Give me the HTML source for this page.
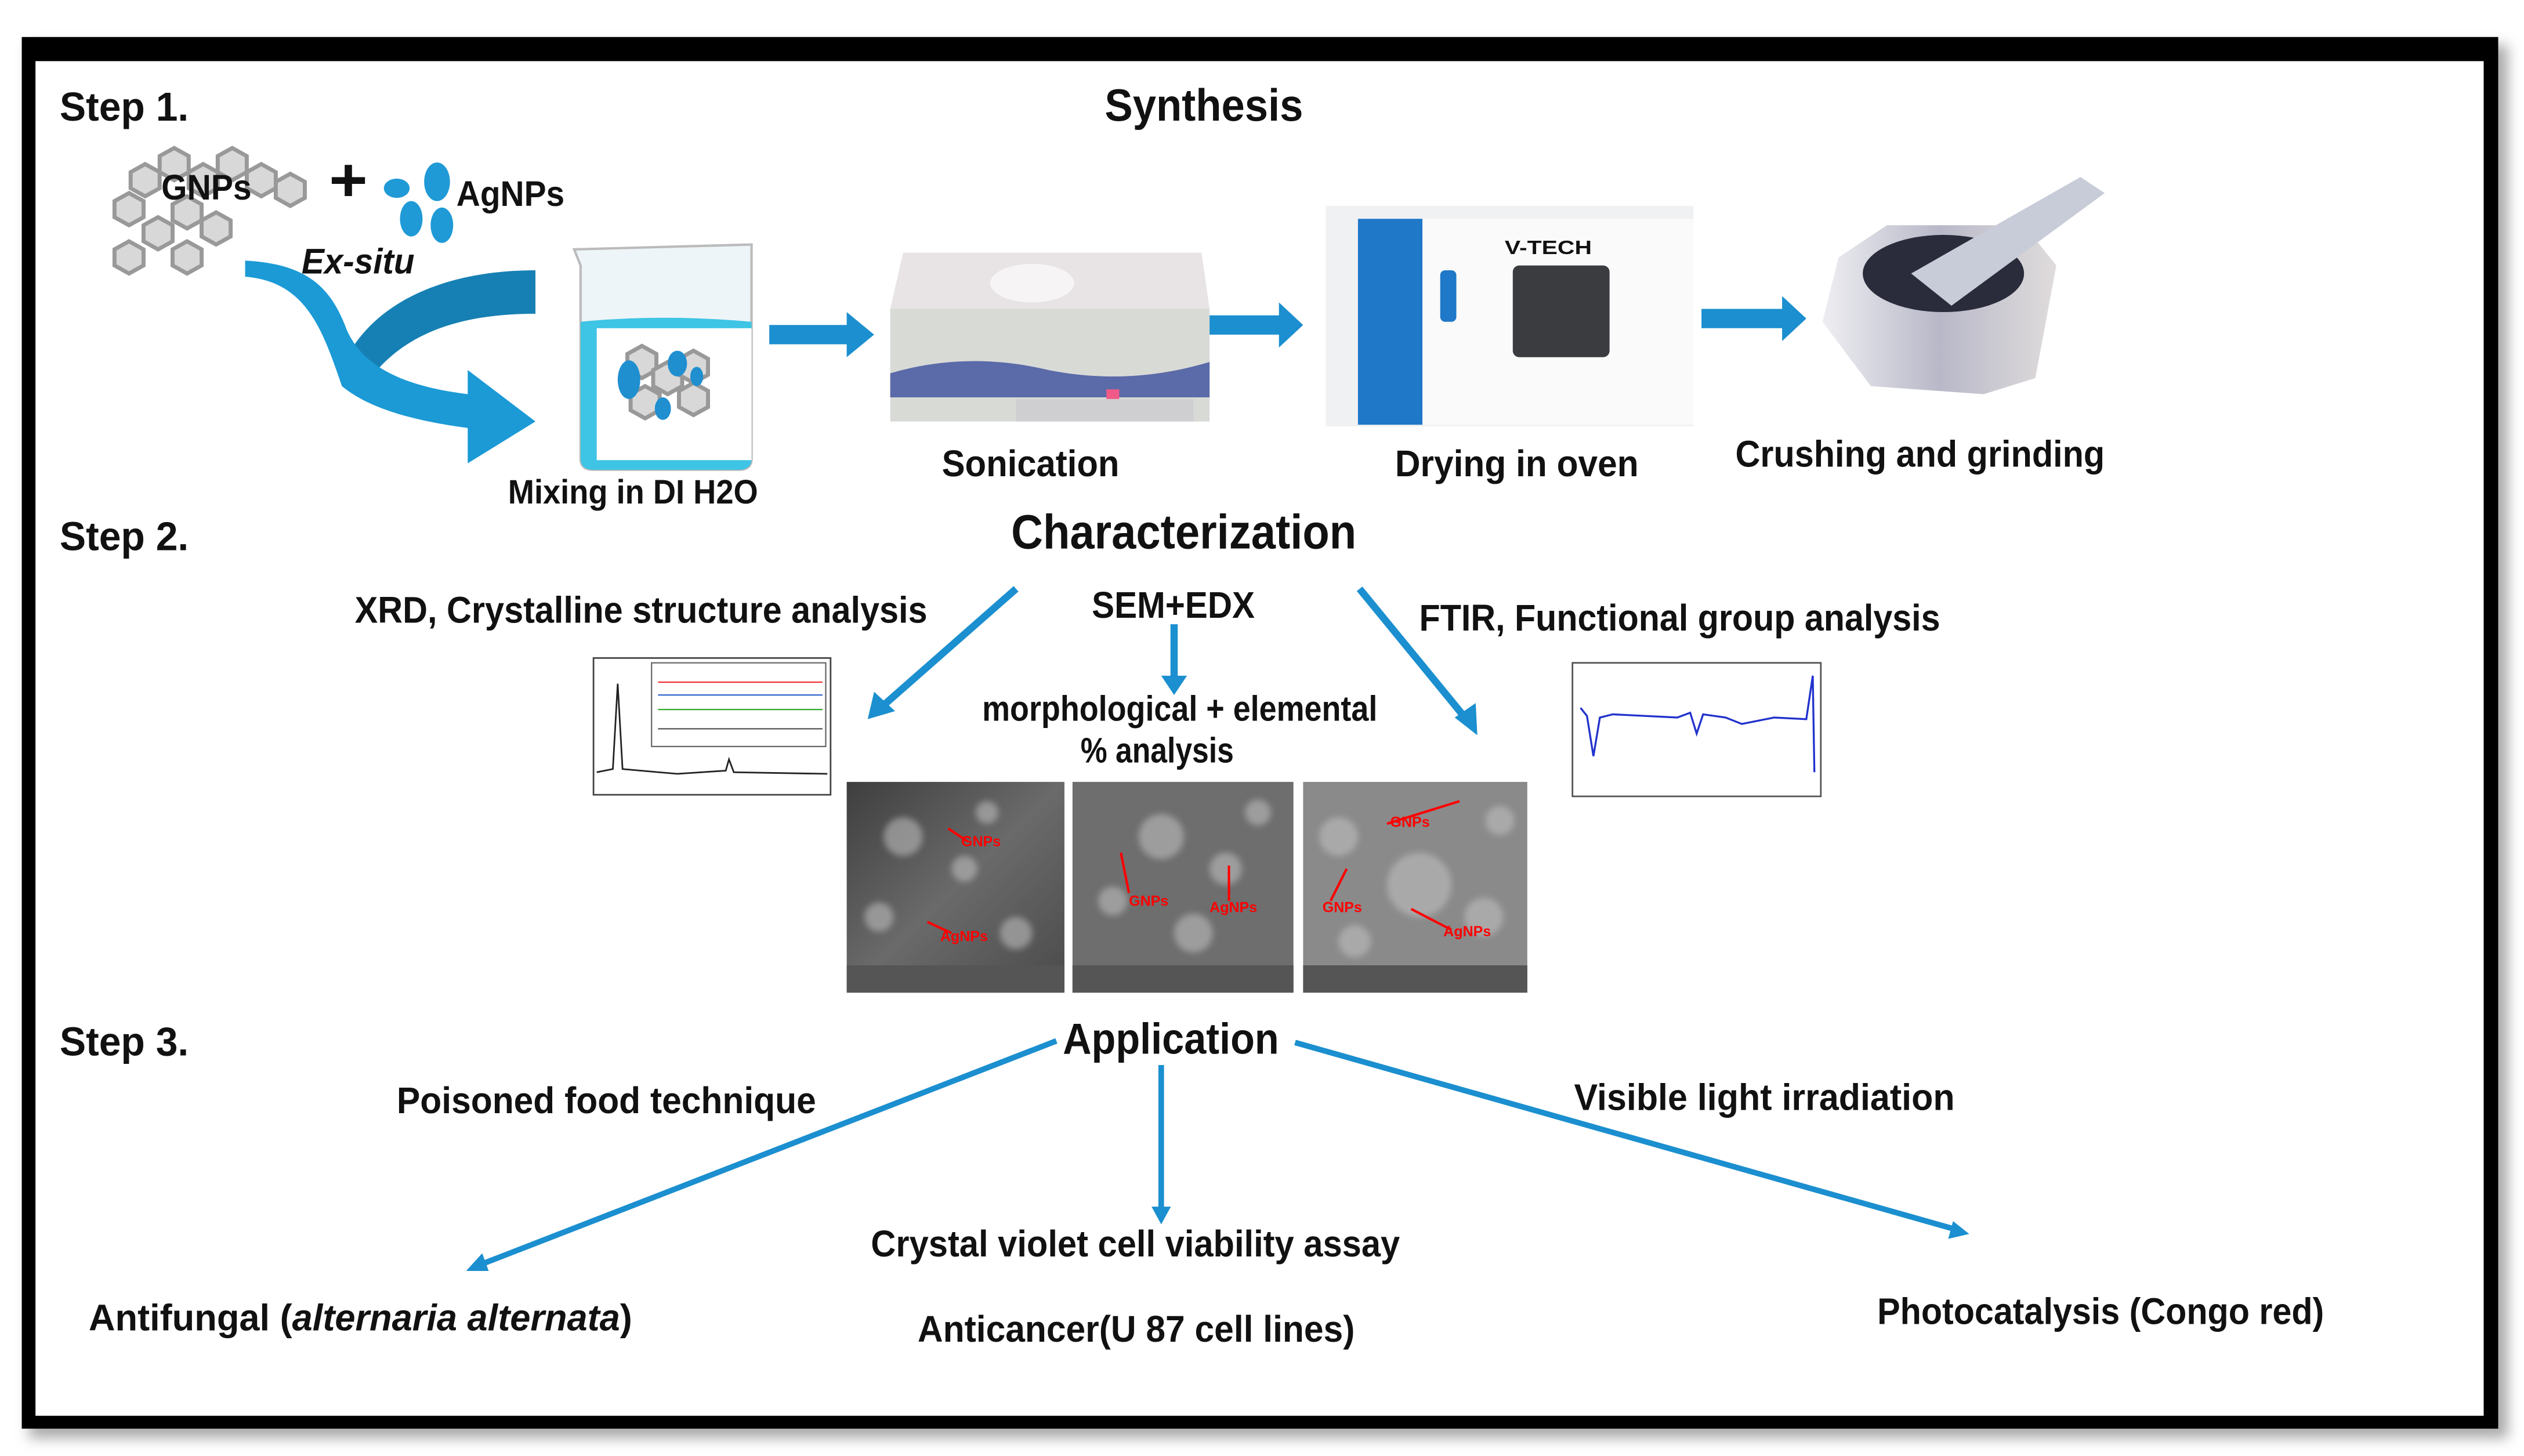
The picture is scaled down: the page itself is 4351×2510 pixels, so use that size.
<!DOCTYPE html>
<html><head><meta charset="utf-8"><style>
html,body{margin:0;padding:0;background:#fff;}
svg{display:block;}
text{font-family:"Liberation Sans",sans-serif;font-weight:bold;fill:#111;}
</style></head><body>
<svg width="4351" height="2510" viewBox="0 0 1565 905" preserveAspectRatio="none" xmlns="http://www.w3.org/2000/svg">
<defs>
<filter id="sh" x="-5%" y="-5%" width="110%" height="115%"><feGaussianBlur stdDeviation="4"/></filter>
<filter id="bl"><feGaussianBlur stdDeviation="2"/></filter>
<linearGradient id="sem" x1="0" y1="0" x2="1" y2="1"><stop offset="0" stop-color="#3e3e3e"/><stop offset="0.5" stop-color="#6a6a6a"/><stop offset="1" stop-color="#4a4a4a"/></linearGradient>
<linearGradient id="mort" x1="0" y1="0" x2="1" y2="0"><stop offset="0" stop-color="#eeeef2"/><stop offset="0.5" stop-color="#b8b8c8"/><stop offset="1" stop-color="#e0dcdc"/></linearGradient>
<g id="hex"><polygon points="0,-10 9,-5 9,5 0,10 -9,5 -9,-5" fill="#d8d8d8" stroke="#999" stroke-width="2.5"/></g>
</defs>
<rect x="0" y="0" width="1565" height="905" fill="#fff"/>
<rect x="18" y="28" width="1537" height="866" fill="#aaa" filter="url(#sh)"/>
<rect x="13.5" y="23" width="1535.5" height="865" fill="#000"/>
<rect x="22" y="38" width="1518" height="842" fill="#fff"/>

<g lengthAdjust="spacingAndGlyphs">
<text x="37" y="75" font-size="25" textLength="80" lengthAdjust="spacingAndGlyphs">Step 1.</text>
<text x="37" y="342" font-size="25" textLength="80" lengthAdjust="spacingAndGlyphs">Step 2.</text>
<text x="37" y="656" font-size="25" textLength="80" lengthAdjust="spacingAndGlyphs">Step 3.</text>
<text x="685" y="75" font-size="28" textLength="123" lengthAdjust="spacingAndGlyphs">Synthesis</text>
</g>

<!-- graphene -->
<g>
<use href="#hex" x="90" y="112"/><use href="#hex" x="108" y="102"/><use href="#hex" x="126" y="112"/><use href="#hex" x="144" y="102"/>
<use href="#hex" x="162" y="112"/><use href="#hex" x="180" y="118"/><use href="#hex" x="80" y="130"/><use href="#hex" x="116" y="132"/>
<use href="#hex" x="134" y="142"/><use href="#hex" x="98" y="145"/><use href="#hex" x="80" y="160"/><use href="#hex" x="116" y="160"/>
</g>
<text x="100" y="124" font-size="22" textLength="56" lengthAdjust="spacingAndGlyphs">GNPs</text>
<text x="204" y="125" font-size="38" textLength="24" lengthAdjust="spacingAndGlyphs">+</text>
<ellipse cx="246" cy="117" rx="8" ry="6" fill="#1f9ad6"/>
<ellipse cx="271" cy="113" rx="8" ry="12" fill="#1f9ad6"/>
<ellipse cx="255" cy="136" rx="7" ry="11" fill="#1f9ad6"/>
<ellipse cx="274" cy="140" rx="7" ry="11" fill="#1f9ad6"/>
<text x="283" y="128" font-size="22" textLength="67" lengthAdjust="spacingAndGlyphs">AgNPs</text>
<text x="187" y="170" font-size="22" font-style="italic" textLength="70" lengthAdjust="spacingAndGlyphs">Ex-situ</text>

<path d="M332,168 L332,195 C280,195 245,210 225,242 L215,222 C235,185 280,168 332,168 Z" fill="#1680b4"/>
<path d="M152,162 L152,172 C190,175 200,205 212,240 C230,255 260,262 290,266 L290,288 L332,262 L290,230 L290,245 C250,240 225,228 215,205 C205,178 190,164 152,162 Z" fill="#1b9ad6"/>

<!-- beaker -->
<path d="M356,155 L466,152 L466,285 Q466,292 458,292 L368,292 Q360,292 360,285 L360,165 Z" fill="#eef5f8" stroke="#bbb" stroke-width="1.5"/>
<path d="M360,200 Q410,195 466,200 L466,285 Q466,292 458,292 L368,292 Q360,292 360,285 Z" fill="#3ec4e4"/>
<rect x="370" y="204" width="96" height="82" fill="#fff"/>
<use href="#hex" x="398" y="225"/><use href="#hex" x="414" y="235"/><use href="#hex" x="400" y="250"/><use href="#hex" x="430" y="228"/><use href="#hex" x="430" y="248"/>
<ellipse cx="390" cy="236" rx="7" ry="12" fill="#1f8fd0"/><ellipse cx="420" cy="226" rx="6" ry="8" fill="#1f8fd0"/><ellipse cx="411" cy="254" rx="5" ry="7" fill="#1f8fd0"/><ellipse cx="432" cy="234" rx="4" ry="6" fill="#1f8fd0"/>
<text x="315" y="313" font-size="21" textLength="155" lengthAdjust="spacingAndGlyphs">Mixing in DI H2O</text>

<path d="M477,202 L525,202 L525,194 L542,208 L525,222 L525,214 L477,214 Z" fill="#1b8fcf"/>
<path d="M743,196 L793,196 L793,188 L808,202 L793,216 L793,208 L743,208 Z" fill="#1b8fcf"/>
<path d="M1055,192 L1105,192 L1105,184 L1120,198 L1105,212 L1105,204 L1055,204 Z" fill="#1b8fcf"/>

<!-- sonicator -->
<path d="M560,157 L745,157 L750,192 L552,192 Z" fill="#e8e4e6"/>
<ellipse cx="640" cy="176" rx="26" ry="12" fill="#f6f4f5"/>
<rect x="552" y="192" width="198" height="70" fill="#d8dad6"/>
<path d="M552,232 Q600,218 650,230 Q700,240 750,225 L750,247 L552,247 Z" fill="#5b6aa8"/>
<rect x="630" y="248" width="110" height="14" fill="#cfcfd2"/>
<rect x="686" y="242" width="8" height="6" fill="#f05a88"/>
<text x="584" y="296" font-size="23" textLength="110" lengthAdjust="spacingAndGlyphs">Sonication</text>

<!-- oven -->
<rect x="822" y="128" width="228" height="137" fill="#f0f1f3"/>
<rect x="842" y="136" width="40" height="128" fill="#1f78c8"/>
<rect x="882" y="136" width="168" height="128" fill="#fafafa"/>
<rect x="893" y="168" width="10" height="32" rx="3" fill="#1f78c8"/>
<rect x="938" y="165" width="60" height="57" rx="4" fill="#3a3c40"/>
<text x="933" y="158" font-size="12" textLength="54" lengthAdjust="spacingAndGlyphs">V-TECH</text>
<text x="865" y="296" font-size="23" textLength="151" lengthAdjust="spacingAndGlyphs">Drying in oven</text>

<!-- mortar -->
<path d="M1140,160 L1170,140 L1255,140 L1275,165 L1262,235 L1230,245 L1160,240 L1130,200 Z" fill="url(#mort)"/>
<ellipse cx="1205" cy="170" rx="50" ry="24" fill="#2a2c3c"/>
<path d="M1185,170 L1290,110 L1305,120 L1210,190 Z" fill="#c8ccd8"/>
<text x="1076" y="290" font-size="23" textLength="229" lengthAdjust="spacingAndGlyphs">Crushing and grinding</text>

<!-- Step 2 -->
<text x="627" y="341" font-size="30" textLength="214" lengthAdjust="spacingAndGlyphs">Characterization</text>
<text x="220" y="387" font-size="23" textLength="355" lengthAdjust="spacingAndGlyphs">XRD, Crystalline structure analysis</text>
<text x="677" y="384" font-size="23" textLength="101" lengthAdjust="spacingAndGlyphs">SEM+EDX</text>
<text x="880" y="392" font-size="23" textLength="323" lengthAdjust="spacingAndGlyphs">FTIR, Functional group analysis</text>
<text x="609" y="448" font-size="22" textLength="245" lengthAdjust="spacingAndGlyphs">morphological + elemental</text>
<text x="670" y="474" font-size="22" textLength="95" lengthAdjust="spacingAndGlyphs">% analysis</text>

<g stroke="#1b8fcf" stroke-width="4.5" fill="none">
<line x1="630" y1="366" x2="546" y2="440"/>
<line x1="728" y1="388" x2="728" y2="424"/>
<line x1="843" y1="366" x2="910" y2="448"/>
</g>
<polygon points="538,447 542,430 555,442" fill="#1b8fcf"/>
<polygon points="728,432 720,420 736,420" fill="#1b8fcf"/>
<polygon points="916,457 902,446 915,437" fill="#1b8fcf"/>

<!-- XRD -->
<rect x="368" y="409" width="147" height="85" fill="#fff" stroke="#444" stroke-width="1"/>
<rect x="404" y="412" width="108" height="52" fill="#fff" stroke="#666" stroke-width="0.8"/>
<polyline points="370,480 380,478 383,425 386,478 420,481 450,479 452,472 455,480 513,481" fill="none" stroke="#222" stroke-width="1"/>
<line x1="408" y1="424" x2="510" y2="424" stroke="#e33" stroke-width="0.8"/>
<line x1="408" y1="432" x2="510" y2="432" stroke="#36c" stroke-width="0.8"/>
<line x1="408" y1="441" x2="510" y2="441" stroke="#3a3" stroke-width="0.8"/>
<line x1="408" y1="453" x2="510" y2="453" stroke="#555" stroke-width="0.8"/>

<!-- SEM -->
<rect x="525" y="486" width="135" height="131" fill="url(#sem)"/>
<rect x="665" y="486" width="137" height="131" fill="#6e6e6e"/>
<rect x="808" y="486" width="139" height="131" fill="#8a8a8a"/>
<g fill="#c4c4c4" opacity="0.55" filter="url(#bl)">
<circle cx="598" cy="540" r="8"/><circle cx="560" cy="520" r="12"/><circle cx="630" cy="580" r="10"/><circle cx="545" cy="570" r="9"/><circle cx="612" cy="505" r="7"/>
<circle cx="720" cy="520" r="14"/><circle cx="760" cy="540" r="10"/><circle cx="690" cy="560" r="9"/><circle cx="740" cy="580" r="12"/><circle cx="780" cy="505" r="8"/>
<circle cx="880" cy="550" r="20"/><circle cx="830" cy="520" r="12"/><circle cx="920" cy="570" r="12"/><circle cx="840" cy="585" r="10"/><circle cx="930" cy="510" r="9"/>
</g>
<g fill="#555"><rect x="525" y="600" width="135" height="17"/><rect x="665" y="600" width="137" height="17"/><rect x="808" y="600" width="139" height="17"/></g>
<g stroke="#f00" stroke-width="1.5" fill="none">
<line x1="588" y1="515" x2="600" y2="523"/><line x1="575" y1="573" x2="590" y2="580"/>
<line x1="700" y1="555" x2="695" y2="530"/><line x1="762" y1="560" x2="762" y2="538"/>
<line x1="860" y1="512" x2="905" y2="498"/><line x1="825" y1="560" x2="835" y2="540"/><line x1="900" y1="578" x2="875" y2="565"/>
</g>
<g font-size="9"><text x="596" y="526" style="fill:#f00">GNPs</text><text x="583" y="585" style="fill:#f00">AgNPs</text><text x="700" y="563" style="fill:#f00">GNPs</text><text x="750" y="567" style="fill:#f00">AgNPs</text><text x="862" y="514" style="fill:#f00">GNPs</text><text x="820" y="567" style="fill:#f00">GNPs</text><text x="895" y="582" style="fill:#f00">AgNPs</text></g>

<!-- FTIR -->
<rect x="975" y="412" width="154" height="83" fill="#fff" stroke="#555" stroke-width="1"/>
<polyline points="980,440 984,445 988,470 992,446 1000,444 1040,446 1048,443 1052,456 1056,444 1070,446 1080,450 1100,446 1120,447 1124,420 1125,480" fill="none" stroke="#2233cc" stroke-width="1.2"/>

<!-- Step 3 -->
<text x="659" y="655" font-size="27" textLength="134" lengthAdjust="spacingAndGlyphs">Application</text>
<text x="246" y="692" font-size="23" textLength="260" lengthAdjust="spacingAndGlyphs">Poisoned food technique</text>
<text x="976" y="690" font-size="23" textLength="236" lengthAdjust="spacingAndGlyphs">Visible light irradiation</text>
<text x="540" y="781" font-size="23" textLength="328" lengthAdjust="spacingAndGlyphs">Crystal violet cell viability assay</text>
<text x="55" y="827" font-size="23" textLength="337" lengthAdjust="spacingAndGlyphs">Antifungal (<tspan font-style="italic">alternaria alternata</tspan>)</text>
<text x="569" y="834" font-size="23" textLength="271" lengthAdjust="spacingAndGlyphs">Anticancer(U 87 cell lines)</text>
<text x="1164" y="823" font-size="23" textLength="277" lengthAdjust="spacingAndGlyphs">Photocatalysis (Congo red)</text>

<g stroke="#1b8fcf" stroke-width="3.5" fill="none">
<line x1="655" y1="647" x2="298" y2="786"/>
<line x1="720" y1="662" x2="720" y2="752"/>
<line x1="803" y1="648" x2="1212" y2="764"/>
</g>
<polygon points="289,790 299,779 303,790" fill="#1b8fcf"/>
<polygon points="720,761 714,750 726,750" fill="#1b8fcf"/>
<polygon points="1221,767 1208,770 1211,759" fill="#1b8fcf"/>
</svg>
</body></html>
